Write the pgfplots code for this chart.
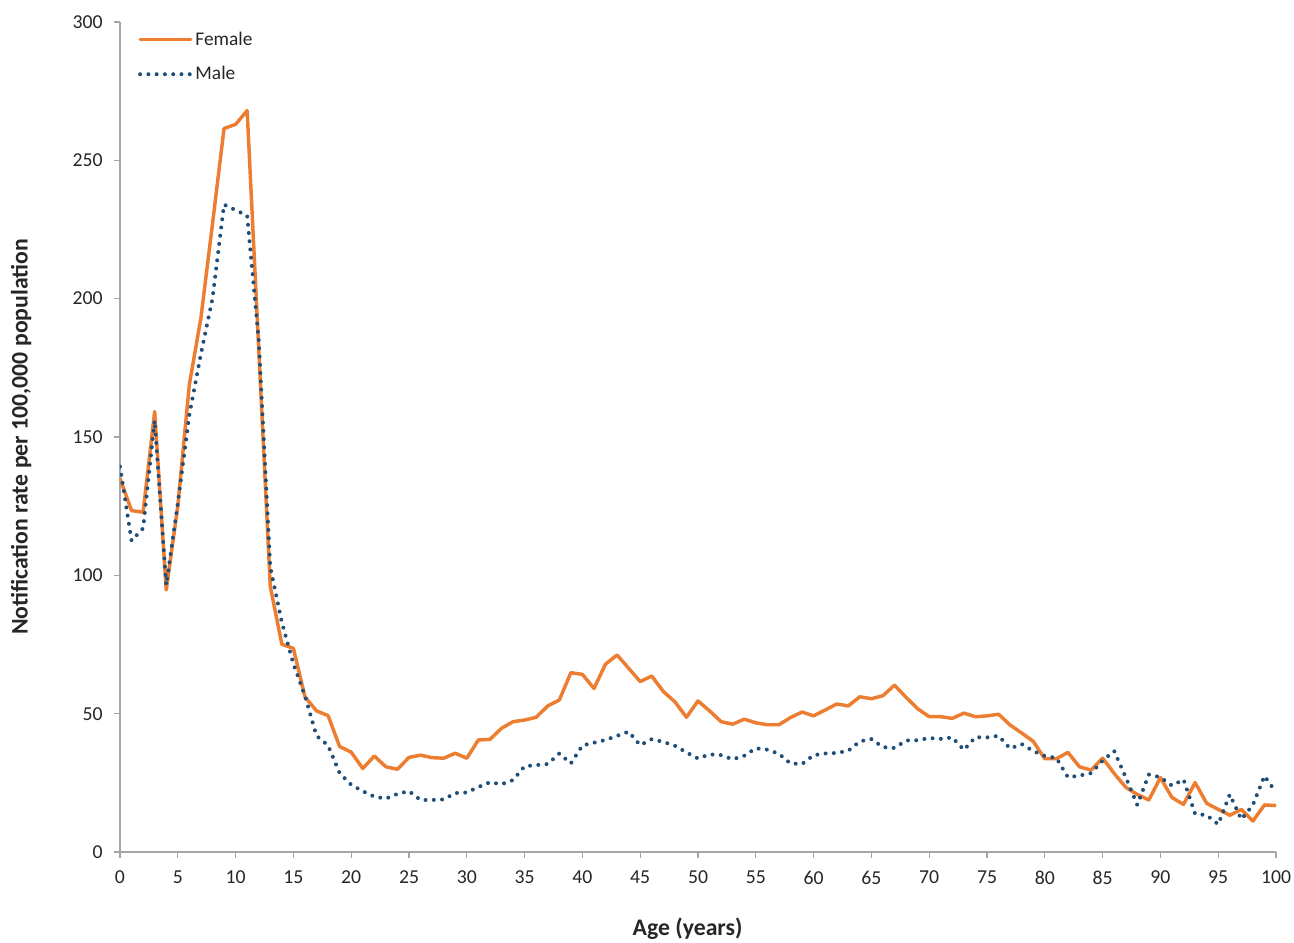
\documentclass[border=0pt]{standalone}
\usepackage{fontspec}
\setmainfont{Carlito}
\usepackage{pgfplots}
\usepackage{pgfplotstable}
\pgfplotsset{compat=1.18}
\definecolor{forange}{HTML}{ED7D31}
\definecolor{mblue}{HTML}{1F4E79}
\definecolor{axgrey}{HTML}{A6A6A6}
\definecolor{txt}{HTML}{262626}

\pgfplotstableread{
age female
0 135
1 123.4
2 122.8
3 159.2
4 94.7
5 125
6 169
7 193
8 227
9 261.5
10 263
11 268
12 182
13 96
14 75.1
15 73.6
16 56.1
17 51
18 49.3
19 38.1
20 36.1
21 30.2
22 34.7
23 30.8
24 29.9
25 34.2
26 35
27 34.1
28 33.9
29 35.7
30 33.9
31 40.5
32 40.7
33 44.7
34 47.1
35 47.7
36 48.7
37 52.8
38 54.9
39 64.8
40 64.2
41 59.1
42 67.9
43 71.2
44 66.4
45 61.6
46 63.6
47 58
48 54.3
49 48.7
50 54.6
51 51
52 47.1
53 46.2
54 48
55 46.7
56 46
57 46
58 48.6
59 50.6
60 49.2
61 51.3
62 53.5
63 52.8
64 56.1
65 55.4
66 56.5
67 60.3
68 55.9
69 51.8
70 48.9
71 48.9
72 48.3
73 50.2
74 48.9
75 49.2
76 49.8
77 45.9
78 43
79 40
80 33.7
81 33.7
82 36
83 30.8
84 29.6
85 33.9
86 28.4
87 23.4
88 20.8
89 18.8
90 26.9
91 19.7
92 17.2
93 25.1
94 17.6
95 15.4
96 13.3
97 15.4
98 11.2
99 17
100 16.8
}\femaledata

\pgfplotstableread{
age male
0 139.3
1 112.5
2 117
3 156
4 96.5
5 126
6 158
7 180
8 200
9 234
10 232
11 230
12 185
13 103
14 83
15 68
16 56.4
17 42
18 38.5
19 28.5
20 24.3
21 22
22 20
23 19.3
24 21
25 22
26 18.8
27 18.8
28 19
29 21.3
30 21.5
31 23.5
32 25.2
33 24.5
34 26
35 31
36 31.4
37 31.8
38 35.6
39 32
40 38.5
41 39.5
42 40.5
43 42
44 43.5
45 38.6
46 40.8
47 39.8
48 38.4
49 36
50 33.8
51 35.3
52 35
53 33.5
54 34.8
55 37.5
56 37
57 35.5
58 32
59 31.8
60 35
61 35.6
62 35.8
63 36.6
64 40
65 40.8
66 37.9
67 37.6
68 40.3
69 40.4
70 41.2
71 40.9
72 41.4
73 36.9
74 41.5
75 41.4
76 42
77 37.4
78 39
79 36.5
80 34.7
81 34
82 27
83 27.6
84 28.5
85 33
86 36.5
87 27
88 17
89 28
90 27
91 24
92 26.2
93 13.8
94 13.3
95 10
96 20.8
97 11.8
98 17
99 27.5
100 21.5
}\maledata

\begin{document}
\begin{tikzpicture}
\path[use as bounding box] (-90pt,-67.5pt) rectangle (880.5pt,639pt);
\begin{axis}[
  scale only axis,
  width=867pt, height=622.5pt,
  at={(0pt,0pt)}, anchor=south west,
  xmin=0, xmax=100, ymin=0, ymax=300,
  xtick={0,5,...,100},
  ytick={0,50,...,300},
  axis x line*=bottom, axis y line*=left,
  axis line style={axgrey, line width=1pt, -},
  tick style={axgrey, line width=1pt},
  tick align=outside,
  major tick length=4.5pt,
  /pgf/number format/assume math mode=true,
  ticklabel style={font=\fontsize{14.8}{17}\selectfont, text=txt},
  xticklabel style={yshift=-6pt},
  yticklabel style={xshift=-5pt},
  xlabel={Age (years)},
  ylabel={Notification rate per 100,000 population},
  xlabel style={at={(axis description cs:0.491,-0.1)}, anchor=base, font=\fontsize{17.8}{21}\selectfont\bfseries, text=txt},
  ylabel style={at={(axis description cs:-0.0856,0.5)}, anchor=center, font=\fontsize{17.8}{21}\selectfont\bfseries, text=txt},
  legend style={at={(axis description cs:0.012,0.995)}, anchor=north west, draw=none, fill=none,
    font=\fontsize{14.5}{17}\selectfont, text=txt, row sep=10.5pt,
    /tikz/every even column/.append style={column sep=2pt}},
  legend cell align=left,
  legend image code/.code={\draw[#1] (0pt,0pt) -- (38pt,0pt);},
]
\addplot[forange, line width=2.6pt, line join=round, line cap=round] table[x=age, y=female] {\femaledata};
\addlegendentry{Female}
\addplot[mblue, line width=3pt, line cap=round, dash pattern=on 0pt off 6.2pt] table[x=age, y=male] {\maledata};
\addlegendentry{Male}
\end{axis}
\end{tikzpicture}
\end{document}
